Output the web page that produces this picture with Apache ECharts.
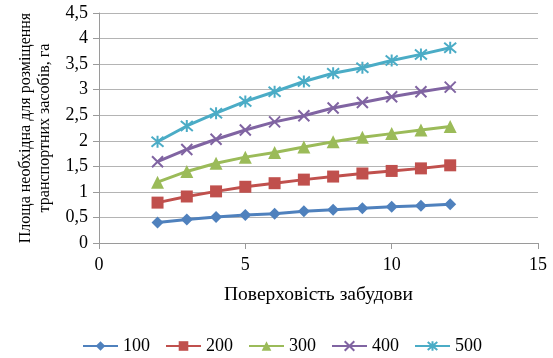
<!DOCTYPE html>
<html><head><meta charset="utf-8">
<script src="https://cdn.jsdelivr.net/npm/echarts@6/dist/echarts.min.js"></script>
<style>html,body{margin:0;padding:0;background:#fff}#c{width:553px;height:358px}</style>
</head><body><div id="c"></div>
<script>
const xValues = [2,3,4,5,6,7,8,9,10,11,12];
const seriesNames = ['100','200','300','400','500'];
const s100 = [0.40,0.46,0.51,0.55,0.57,0.62,0.65,0.68,0.71,0.73,0.76];
const s200 = [0.79,0.91,1.01,1.10,1.17,1.24,1.30,1.36,1.41,1.46,1.52];
const s300 = [1.19,1.40,1.56,1.68,1.77,1.88,1.98,2.07,2.14,2.21,2.28];
const s400 = [1.59,1.83,2.03,2.21,2.37,2.49,2.64,2.75,2.86,2.96,3.05];
const s500 = [1.98,2.29,2.54,2.77,2.96,3.16,3.32,3.43,3.57,3.69,3.82];
const xTicks = [0,5,10,15];
const yTicks = [0,0.5,1,1.5,2,2.5,3,3.5,4,4.5];

const colors = ['#4F81BD','#C0504D','#9BBB59','#8064A2','#4BACC6'];
const symbols = ['diamond','rect','triangle','path://M0,0L10,10M10,0L0,10','path://M0,0L10,10M10,0L0,10M5,-1L5,11'];
const sizes = [12,12,13,11,12];
const allData = [s100,s200,s300,s400,s500];
const font = '"Liberation Serif","Times New Roman",serif';

const series = allData.map((arr,i)=>({
  name: seriesNames[i],
  type:'line',
  data: arr.map((v,j)=>[xValues[j],v]),
  symbol: symbols[i],
  symbolSize: sizes[i],
  showAllSymbol:true,
  lineStyle:{color:colors[i],width:3},
  itemStyle:{color:colors[i],borderColor:colors[i],borderWidth:i>=3?2:0},
  emphasis:{disabled:true},
  z: 2+i
}));

const chart = echarts.init(document.getElementById('c'),null,{renderer:'canvas'});
chart.setOption({
  animation:false,
  textStyle:{fontFamily:font},
  grid:{left:99,right:15,top:13,bottom:115,containLabel:false},
  xAxis:{
    type:'value',min:0,max:15,interval:5,
    name:'Поверховість забудови',nameLocation:'middle',nameGap:42,
    nameTextStyle:{fontFamily:font,fontSize:19.5,color:'#000'},
    axisLine:{show:true,onZero:false,lineStyle:{color:'#9a9a9a',width:1}},
    axisTick:{show:true,length:6,lineStyle:{color:'#9a9a9a'}},
    axisLabel:{fontFamily:font,fontSize:18,color:'#000',margin:13,formatter:v=>String(v)},
    splitLine:{show:false}
  },
  yAxis:{
    type:'value',min:0,max:4.5,interval:0.5,
    name:'Площа необхідна для розміщення\nтранспортних засобів, га',
    nameLocation:'middle',nameGap:42,nameRotate:90,
    nameTextStyle:{fontFamily:font,fontSize:16,color:'#000',lineHeight:19},
    axisLine:{show:true,lineStyle:{color:'#9a9a9a',width:1}},
    axisTick:{show:true,length:6,lineStyle:{color:'#9a9a9a'}},
    axisLabel:{fontFamily:font,fontSize:18,color:'#000',margin:11,formatter:v=>String(v).replace('.',',')},
    splitLine:{show:true,lineStyle:{color:'#b4b4b4',width:1}}
  },
  legend:{
    data:seriesNames,left:77,top:332,itemWidth:35,itemHeight:12,itemGap:15,
    textStyle:{fontFamily:font,fontSize:18,color:'#000'},
    selectedMode:false
  },
  series
});
</script></body></html>
